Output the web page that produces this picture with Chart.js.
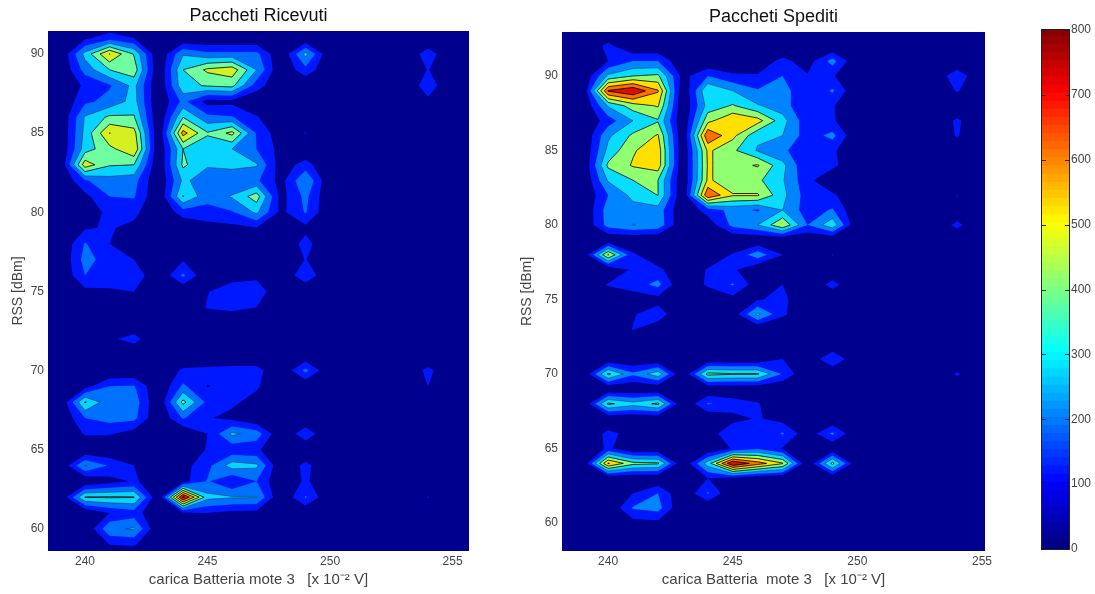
<!DOCTYPE html>
<html><head><meta charset="utf-8">
<script src="https://cdn.jsdelivr.net/npm/chart.js@4"></script>
<style>
html,body{margin:0;padding:0;background:#fff;width:1095px;height:594px;overflow:hidden}
canvas{position:absolute;top:0;display:block}
</style></head><body>
<canvas id="left" width="490" height="594" style="left:0"></canvas>
<canvas id="right" width="510" height="594" style="left:490px"></canvas>
<canvas id="bar" width="95" height="594" style="left:1000px"></canvas>
<script>
const dataColumns=[240,241,242,243,244,245,246,247,248,249,254];
const emptyColumns=[239,250,253,255];
const xTicks=[240,245,250,255];
const yTicks=[60,65,70,75,80,85,90];
const barTicks=[0,100,200,300,400,500,600,700,800];
const levels=[100,200,300,400,500,600,700,800];

const leftRows=[92,91,90,89,88,87,86,85,84,83,82,81,80,79,78,77,76,75,74,73,72,71,70,69,68,67,66,65,64,63,62,61,60,59,58];
const leftValues=[
[0,0,0,0,0,0,0,0,0,0,0],
[80,150,100,0,0,0,0,0,0,0,0],
[333,605,390,0,290,230,230,230,0,330,154],
[240,400,460,0,400,520,560,300,0,170,105],
[120,190,330,0,370,410,430,150,0,0,160],
[180,230,340,0,230,60,70,0,0,0,75],
[310,420,410,0,400,230,210,110,0,0,0],
[330,602,540,0,640,410,530,190,30,105,0],
[350,470,590,0,400,350,300,200,60,0,0],
[560,410,400,0,420,310,340,310,40,143,60],
[190,260,240,0,320,250,200,220,60,300,0],
[70,200,210,0,405,230,310,450,60,230,0],
[30,130,130,0,150,170,190,320,70,210,0],
[90,110,70,0,0,50,70,90,0,72,0],
[210,100,0,0,50,50,80,70,0,140,0],
[240,150,100,0,90,0,85,85,0,105,0],
[200,140,180,0,220,0,60,70,0,180,0],
[70,90,100,0,0,95,150,170,0,0,0],
[0,0,0,0,0,110,130,100,0,0,0],
[0,0,0,0,0,0,0,0,0,0,0],
[0,80,140,0,0,0,0,0,0,0,0],
[0,0,0,0,0,0,0,0,0,0,0],
[0,0,0,0,120,130,140,140,0,230,130],
[60,200,210,0,220,95,130,115,0,0,100],
[410,230,260,0,430,170,120,60,0,0,0],
[200,240,230,0,210,110,70,0,0,0,0],
[110,110,50,0,0,100,320,260,0,170,0],
[0,0,0,0,0,110,130,120,0,0,0],
[310,190,100,0,60,170,350,320,0,130,0],
[0,60,110,60,60,210,100,200,0,120,0],
[405,410,405,0,830,330,310,305,0,210,105],
[0,100,150,0,70,100,70,60,0,0,0],
[0,280,310,0,0,0,0,0,0,0,0],
[0,100,110,0,0,0,0,0,0,0,0],
[0,0,0,0,0,0,0,0,0,0,0]];

const rightRows=[93,92,91,90,89,88,87,86,85,84,83,82,81,80,79,78,77,76,75,74,73,72,71,70,69,68,67,66,65,64,63,62,61,60,59,58];
const rightValues=[
[0,0,0,0,0,0,0,0,0,0,0],
[130,0,0,0,0,0,0,0,0,0,0],
[100,200,200,0,0,0,30,130,50,240,0],
[320,400,420,60,200,120,110,200,110,110,170],
[710,790,610,0,395,300,210,250,100,215,110],
[310,450,510,0,340,410,310,250,100,110,0],
[150,300,390,0,470,590,540,340,130,115,120],
[280,420,510,0,690,530,320,300,150,230,110],
[330,490,560,0,520,420,290,220,130,120,0],
[420,510,560,0,510,460,510,330,100,130,0],
[310,400,400,0,520,420,420,310,130,0,0],
[200,330,402,0,690,510,510,330,150,120,105],
[250,260,260,0,150,230,190,300,150,210,0],
[240,303,270,0,30,230,300,490,200,370,130],
[0,0,0,0,0,0,0,0,0,0,0],
[510,120,0,0,0,110,260,100,0,105,0],
[0,120,130,0,110,120,0,0,0,0,0],
[110,150,230,0,120,210,40,100,0,140,0],
[0,40,60,0,0,60,90,130,0,0,0],
[0,90,160,0,0,40,320,120,0,0,0],
[0,105,30,0,0,0,0,0,0,0,0],
[0,0,0,0,0,0,0,0,0,0,0],
[0,0,0,0,0,0,0,100,0,200,0],
[420,220,360,0,430,410,410,190,0,0,115],
[0,0,0,0,0,0,0,0,0,0,0],
[420,340,420,0,210,160,110,0,0,0,0],
[0,0,0,0,0,60,110,60,0,0,0],
[130,60,0,0,30,200,120,210,30,220,0],
[120,0,0,0,0,110,180,90,0,0,0],
[610,430,415,0,350,800,650,510,0,430,60],
[0,0,0,0,100,60,0,0,0,0,0],
[0,100,200,0,210,0,0,0,0,0,0],
[0,210,240,0,0,0,0,0,0,0,0],
[0,60,70,0,0,0,0,0,0,0,0],
[0,0,0,0,0,0,0,0,0,0,0],
[0,0,0,0,0,0,0,0,0,0,0]];

const leftBands=['#00008f','#0018ff','#0070ff','#08d4ff','#70ffa0','#d4f020','#ff9c00','#f02000','#a00000'];
const rightBands=['#00008f','#0018ff','#0084ff','#08dcff','#90ff70','#ffe000','#ff7000','#d81000','#a00000'];
const lineAlpha=[0,0.05,0.4,0.85,0.9,0.9,0.9,0.9];
const FONT='"Liberation Sans",Arial,sans-serif';

function gridOf(cols,rows,vals){
  const xs=[...cols,...emptyColumns].sort((a,b)=>a-b);
  const z=vals.map(r=>xs.map(x=>{const i=cols.indexOf(x);return i<0?0:r[i];}));
  return {xs,ys:rows,z};
}
function eachCell(g,sx,sy,fn){
  for(let j=0;j<g.ys.length-1;j++)for(let i=0;i<g.xs.length-1;i++){
    const s=g.z[j][i]+g.z[j][i+1]+g.z[j+1][i+1]+g.z[j+1][i];
    if(s===0)continue;
    fn([
      [sx.getPixelForValue(g.xs[i]),sy.getPixelForValue(g.ys[j]),g.z[j][i]],
      [sx.getPixelForValue(g.xs[i+1]),sy.getPixelForValue(g.ys[j]),g.z[j][i+1]],
      [sx.getPixelForValue(g.xs[i+1]),sy.getPixelForValue(g.ys[j+1]),g.z[j+1][i+1]],
      [sx.getPixelForValue(g.xs[i]),sy.getPixelForValue(g.ys[j+1]),g.z[j+1][i]]
    ]);
  }
}
function cross(a,b,L){
  const t=(L-a[2])/(b[2]-a[2]);
  return [a[0]+t*(b[0]-a[0]),a[1]+t*(b[1]-a[1]),L];
}
function clipQuad(q,L){
  const out=[];
  for(let i=0;i<4;i++){
    const a=q[i],b=q[(i+1)%4];
    if(a[2]>=L)out.push(a);
    if((a[2]>=L)!==(b[2]>=L))out.push(cross(a,b,L));
  }
  return out;
}
const contourPlugin={
  id:'contour',
  beforeDatasetsDraw(chart,args,opts){
    const {ctx,chartArea:a,scales:{x,y}}=chart,g=opts.grid;
    ctx.save();
    ctx.beginPath();ctx.rect(a.left,a.top,a.width,a.height);ctx.clip();
    ctx.fillStyle=opts.bands[0];ctx.fillRect(a.left,a.top,a.width,a.height);
    levels.forEach((L,k)=>{
      const path=new Path2D();
      eachCell(g,x,y,q=>{
        const poly=clipQuad(q,L);
        if(poly.length<3)return;
        path.moveTo(poly[0][0],poly[0][1]);
        for(let i=1;i<poly.length;i++)path.lineTo(poly[i][0],poly[i][1]);
        path.closePath();
      });
      ctx.fillStyle=opts.bands[k+1];ctx.fill(path);
    });
    levels.forEach((L,k)=>{
      if(lineAlpha[k]<=0)return;
      const path=new Path2D();
      const seg=(p,q)=>{path.moveTo(p[0],p[1]);path.lineTo(q[0],q[1]);};
      eachCell(g,x,y,q=>{
        const c=[];
        for(let i=0;i<4;i++){
          const p=q[i],r=q[(i+1)%4];
          if((p[2]>=L)!==(r[2]>=L))c.push(cross(p,r,L));
        }
        if(c.length===2)seg(c[0],c[1]);
        else if(c.length===4){
          if(q[0][2]>=L){seg(c[0],c[1]);seg(c[2],c[3]);}
          else{seg(c[3],c[0]);seg(c[1],c[2]);}
        }
      });
      ctx.strokeStyle='rgba(0,0,0,'+lineAlpha[k]+')';ctx.lineWidth=0.9;ctx.stroke(path);
    });
    ctx.restore();
  }
};
function panel(id,title,xlabel,g,bands,o){
  const pts=[];
  g.ys.forEach((yy,j)=>g.xs.forEach((xx,i)=>pts.push({x:xx,y:yy,v:g.z[j][i]})));
  return new Chart(document.getElementById(id),{
    type:'scatter',
    data:{datasets:[{label:title,data:pts,pointRadius:0,showLine:false}]},
    plugins:[contourPlugin],
    options:{
      responsive:false,animation:false,
      layout:{padding:{left:0,right:o.padRight,top:0,bottom:0}},
      plugins:{
        legend:{display:false},tooltip:{enabled:false},
        title:{display:true,text:title,color:'#111',fullSize:false,
          font:{family:FONT,size:18,weight:'normal',lineHeight:1.2},
          padding:{top:o.top-25.8,bottom:4.2}},
        contour:{grid:g,bands}
      },
      scales:{
        x:{type:'linear',min:o.xmin,max:o.xmax,
          afterFit:s=>{s.height=o.xh;},
          afterBuildTicks:s=>{s.ticks=xTicks.map(v=>({value:v}));},
          grid:{display:false,drawTicks:false},border:{display:false},
          ticks:{color:'#444',font:{family:FONT,size:12},padding:3,maxRotation:0,autoSkip:false,callback:v=>String(v)},
          title:{display:true,text:xlabel,color:'#444',font:{family:FONT,size:15,lineHeight:1.2},padding:{top:0,bottom:5}}},
        y:{type:'linear',min:o.ymin,max:o.ymax,
          afterFit:s=>{s.width=o.yw;},
          afterBuildTicks:s=>{s.ticks=yTicks.map(v=>({value:v}));},
          grid:{display:false,drawTicks:false},border:{display:false},
          ticks:{color:'#444',font:{family:FONT,size:12},padding:4,autoSkip:false,callback:v=>String(v)},
          title:{display:true,text:'RSS [dBm]',color:'#444',font:{family:FONT,size:14,lineHeight:1.2},padding:{top:o.ytitle,bottom:0}}}
      }
    }
  });
}
panel('left','Paccheti Ricevuti','carica Batteria mote 3   [x 10\u207B\u00B2 V]',
  gridOf(dataColumns,leftRows,leftValues),leftBands,
  {padRight:21,xmin:238.49,xmax:255.67,ymin:58.6,ymax:91.45,xh:43,yw:48,top:31,ytitle:9.6});
panel('right','Paccheti Spediti','carica Batteria  mote 3   [x 10\u207B\u00B2 V]',
  gridOf(dataColumns,rightRows,rightValues),rightBands,
  {padRight:15,xmin:238.15,xmax:255.12,ymin:58.12,ymax:92.95,xh:43,yw:72,top:32,ytitle:28.6});

function jet(t){
  const c=v=>Math.round(255*Math.max(0,Math.min(1,v)));
  return 'rgb('+c(1.5-Math.abs(4*t-3))+','+c(1.5-Math.abs(4*t-2))+','+c(1.5-Math.abs(4*t-1))+')';
}
const barSteps=64,barMax=800;
const barSets=[];
for(let i=0;i<barSteps;i++){
  const lo=i*barMax/barSteps;
  barSets.push({data:[[lo,lo+barMax/barSteps+3]],backgroundColor:jet((i+.5)/barSteps),borderWidth:0,barPercentage:1,categoryPercentage:1});
}
new Chart(document.getElementById('bar'),{
  type:'bar',
  data:{labels:['colore'],datasets:barSets},
  plugins:[{id:'barFrame',afterDatasetsDraw(chart){
    const {ctx,chartArea:a,scales:{y}}=chart;
    ctx.save();ctx.strokeStyle='#222';ctx.lineWidth=1;
    ctx.strokeRect(a.left-.5,a.top-.5,a.width+1,a.height+1);
    barTicks.forEach(v=>{
      const p=Math.round(y.getPixelForValue(v))+.5;
      ctx.beginPath();ctx.moveTo(a.left,p);ctx.lineTo(a.left+4,p);
      ctx.moveTo(a.right-4,p);ctx.lineTo(a.right,p);ctx.stroke();
    });
    ctx.restore();
  }}],
  options:{
    responsive:false,animation:false,
    layout:{padding:{left:42,right:0,top:30,bottom:45}},
    plugins:{legend:{display:false},tooltip:{enabled:false}},
    scales:{
      x:{display:false,stacked:true},
      y:{position:'right',min:0,max:800,stacked:false,
        afterFit:s=>{s.width=26;},
        afterBuildTicks:s=>{s.ticks=barTicks.map(v=>({value:v}));},
        grid:{display:false,drawTicks:false},border:{display:false},
        ticks:{color:'#444',font:{family:FONT,size:12},padding:2,autoSkip:false,callback:v=>String(v)}}
    }
  }
});
</script>
</body></html>
